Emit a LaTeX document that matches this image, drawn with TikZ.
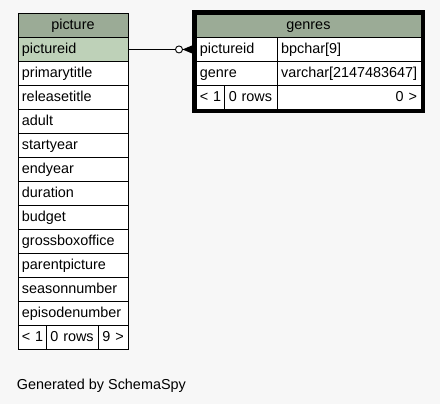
\documentclass[tikz,border=0pt]{standalone}
\usepackage{fontspec}
\setmainfont{Liberation Sans}
\definecolor{pagebg}{HTML}{F7F7F7}
\definecolor{headbg}{HTML}{9BAB96}
\definecolor{keybg}{HTML}{BED1B8}
\tikzset{
  cell/.style={draw,fill=white,anchor=north west,inner xsep=4pt,inner ysep=0pt,
    minimum height=24pt,text height=10.5pt,text depth=3pt,align=left,text width=#1},
  headcell/.style={cell=#1,fill=headbg,align=center},
  keycell/.style={cell=#1,fill=keybg},
}
\begin{document}
\begin{tikzpicture}[x=1pt,y=-1pt,line width=0.9pt,font=\fontsize{14.4}{17}\selectfont]
  \fill[pagebg] (0,0) rectangle (440,404) ;
  \useasboundingbox (0,0) rectangle (440,404) ;
  % table picture
  \node[headcell=102pt] (phead) at (17.5,13) {picture} ;
  \node[keycell=102pt] (p1) at (17.5,37) {pictureid} ;
  \foreach \f [count=\i from 2] in {primarytitle,releasetitle,adult,startyear,endyear,duration,budget,grossboxoffice,parentpicture,seasonnumber,episodenumber}
    \node[cell=102pt] (p\i) at (17.5,{13+24*\i}) {\f} ;
  \node[cell=20.5pt] (pfoot1) at (17.5,325) {\mbox{< 1}} ;
  \node[cell=44pt] (pfoot2) at (46,325) {0 rows} ;
  \node[cell=21.5pt] (pfoot3) at (98,325) {9 >} ;
  % table genres
  \node[headcell=217pt,minimum height=23pt] (ghead) at (195.5,14) {genres} ;
  \node[cell=73.2pt] (gid) at (195.5,37) {pictureid} ;
  \node[cell=135.8pt] (gidtype) at (276.7,37) {bpchar[9]} ;
  \node[cell=73.2pt] (ggenre) at (195.5,61) {genre} ;
  \node[cell=135.8pt] (ggenretype) at (276.7,61) {varchar[2147483647]} ;
  \node[cell=20.8pt] (gfoot1) at (195.5,85) {\mbox{< 1}} ;
  \node[cell=44.4pt] (gfoot2) at (224.3,85) {0 rows} ;
  \node[cell=135.8pt,align=right] (gfoot3) at (276.7,85) {0 >} ;
  % relation picture -> genres
  \draw (p1.east) -- (gid.west) ;
  \fill ([xshift=-13pt]gid.west) -- ([xshift=-3.5pt,yshift=4pt]gid.west)
        -- ([xshift=-3.5pt,yshift=-4pt]gid.west) -- cycle ;
  \draw[fill=white] ([xshift=-16.5pt]gid.west) circle (3.5pt) ;
  \draw[line width=3.6pt] ([xshift=-1.8pt,yshift=2pt]ghead.north west)
        rectangle ([xshift=1.8pt,yshift=-1.8pt]gfoot3.south east) ;
  \node[anchor=base west,inner sep=0pt] (credit) at (16.5,389) {Generated by SchemaSpy} ;
\end{tikzpicture}
\end{document}
